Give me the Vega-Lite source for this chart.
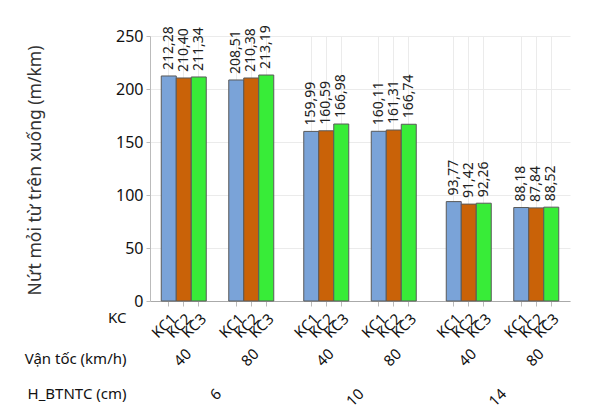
{
  "$schema": "https://vega.github.io/schema/vega-lite/v6.json",
  "autosize": {"type": "none"},
  "padding": {"left": 150, "top": 36, "right": 19, "bottom": 119},
  "width": 420,
  "height": 265,
  "config": {
    "view": {"stroke": null},
    "font": "Noto Sans",
    "locale": {"number": {"decimal": ",", "thousands": ".", "grouping": [3], "currency": ["", ""]}}
  },
  "data": {
    "values": [
      {"H": "6", "V": "40", "KC": "KC1", "value": 212.28, "key": "6|40|KC1"},
      {"H": "6", "V": "40", "KC": "KC2", "value": 210.40, "key": "6|40|KC2"},
      {"H": "6", "V": "40", "KC": "KC3", "value": 211.34, "key": "6|40|KC3"},
      {"H": "6", "V": "80", "KC": "KC1", "value": 208.51, "key": "6|80|KC1"},
      {"H": "6", "V": "80", "KC": "KC2", "value": 210.38, "key": "6|80|KC2"},
      {"H": "6", "V": "80", "KC": "KC3", "value": 213.19, "key": "6|80|KC3"},
      {"H": "10", "V": "40", "KC": "KC1", "value": 159.99, "key": "10|40|KC1"},
      {"H": "10", "V": "40", "KC": "KC2", "value": 160.59, "key": "10|40|KC2"},
      {"H": "10", "V": "40", "KC": "KC3", "value": 166.98, "key": "10|40|KC3"},
      {"H": "10", "V": "80", "KC": "KC1", "value": 160.11, "key": "10|80|KC1"},
      {"H": "10", "V": "80", "KC": "KC2", "value": 161.31, "key": "10|80|KC2"},
      {"H": "10", "V": "80", "KC": "KC3", "value": 166.74, "key": "10|80|KC3"},
      {"H": "14", "V": "40", "KC": "KC1", "value": 93.77, "key": "14|40|KC1"},
      {"H": "14", "V": "40", "KC": "KC2", "value": 91.42, "key": "14|40|KC2"},
      {"H": "14", "V": "40", "KC": "KC3", "value": 92.26, "key": "14|40|KC3"},
      {"H": "14", "V": "80", "KC": "KC1", "value": 88.18, "key": "14|80|KC1"},
      {"H": "14", "V": "80", "KC": "KC2", "value": 87.84, "key": "14|80|KC2"},
      {"H": "14", "V": "80", "KC": "KC3", "value": 88.52, "key": "14|80|KC3"}
    ]
  },
  "encoding": {
    "y": {
      "field": "value",
      "type": "quantitative",
      "scale": {"domain": [0, 250], "nice": false},
      "axis": {
        "values": [0, 50, 100, 150, 200, 250],
        "title": "Nứt mỏi từ trên xuống (m/km)",
        "titleFontSize": 17.5,
        "titleFontWeight": "normal",
        "titleColor": "#333333",
        "titleX": -115,
        "titleY": 134,
        "titleAlign": "center",
        "titleBaseline": "middle",
        "labelFontSize": 16,
        "labelColor": "#111111",
        "grid": true,
        "gridColor": "#ebebeb",
        "domainColor": "#bbbbbb",
        "tickColor": "#bbbbbb",
        "tickSize": 4,
        "labelPadding": 3
      }
    }
  },
  "layer": [
    {
      "mark": {"type": "bar", "width": 15, "stroke": "#5a5a5a", "strokeWidth": 1},
      "encoding": {
        "color": {
          "field": "KC",
          "type": "nominal",
          "scale": {"domain": ["KC1", "KC2", "KC3"], "range": ["#7aa3d8", "#c96208", "#38ec38"]},
          "legend": null
        },
        "x": {
          "field": "key",
          "type": "ordinal",
          "scale": {
            "type": "band",
            "paddingInner": 0,
            "paddingOuter": 0,
            "domain": ["a1", "a2", "6|40|KC1", "s1", "6|40|KC2", "s3", "6|40|KC3", "s5", "H|6", "s7", "s8", "6|80|KC1", "s10", "6|80|KC2", "s12", "6|80|KC3", "s14", "s15", "s16", "s17", "s18", "10|40|KC1", "s20", "10|40|KC2", "s22", "10|40|KC3", "s24", "H|10", "s26", "s27", "10|80|KC1", "s29", "10|80|KC2", "s31", "10|80|KC3", "s33", "s34", "s35", "s36", "s37", "14|40|KC1", "s39", "14|40|KC2", "s41", "14|40|KC3", "s43", "H|14", "s45", "s46", "14|80|KC1", "s48", "14|80|KC2", "s50", "14|80|KC3", "z1", "z2"]
          },
          "axis": {
            "orient": "bottom",
            "values": ["6|40|KC1", "6|40|KC2", "6|40|KC3", "6|80|KC1", "6|80|KC2", "6|80|KC3", "10|40|KC1", "10|40|KC2", "10|40|KC3", "10|80|KC1", "10|80|KC2", "10|80|KC3", "14|40|KC1", "14|40|KC2", "14|40|KC3", "14|80|KC1", "14|80|KC2", "14|80|KC3"],
            "labelExpr": "split(datum.value, '|')[2]",
            "labelAngle": -45,
            "labelFontSize": 15,
            "labelColor": "#111111",
            "labelPadding": 5,
            "tickSize": 5,
            "tickColor": "#bbbbbb",
            "domainColor": "#aaaaaa",
            "grid": true,
            "gridColor": "#ebebeb",
            "title": "KC",
            "titleFontSize": 15,
            "titleFontWeight": "normal",
            "titleColor": "#111111",
            "titleAngle": 0,
            "titleX": -24,
            "titleY": 16,
            "titleAlign": "right",
            "titleBaseline": "middle"
          }
        }
      }
    },
    {
      "mark": {"type": "text", "angle": 270, "align": "left", "baseline": "middle", "dx": 6, "fontSize": 14, "color": "#222222"},
      "encoding": {
        "x": {"field": "key", "type": "ordinal", "axis": null},
        "text": {"field": "value", "type": "quantitative", "format": ".2f"}
      }
    },
    {
      "mark": {"type": "bar", "width": 15, "opacity": 0},
      "encoding": {
        "x": {
          "field": "key",
          "type": "ordinal",
          "axis": {
            "orient": "bottom",
            "values": ["6|40|KC2", "6|80|KC2", "10|40|KC2", "10|80|KC2", "14|40|KC2", "14|80|KC2"],
            "labelExpr": "split(datum.value, '|')[1]",
            "labelAngle": -45,
            "labelFontSize": 15,
            "labelColor": "#111111",
            "labelPadding": 45,
            "ticks": false,
            "domain": false,
            "grid": false,
            "title": "Vận tốc (km/h)",
            "titleFontSize": 15,
            "titleFontWeight": "normal",
            "titleColor": "#111111",
            "titleAngle": 0,
            "titleX": -24,
            "titleY": 57,
            "titleAlign": "right",
            "titleBaseline": "middle"
          }
        }
      }
    },
    {
      "mark": {"type": "bar", "width": 15, "opacity": 0},
      "encoding": {
        "x": {
          "field": "key",
          "type": "ordinal",
          "axis": {
            "orient": "bottom",
            "values": ["H|6", "H|10", "H|14"],
            "labelExpr": "split(datum.value, '|')[1]",
            "labelAngle": -45,
            "labelFontSize": 15,
            "labelColor": "#111111",
            "labelPadding": 85,
            "ticks": false,
            "domain": false,
            "grid": false,
            "title": "H_BTNTC (cm)",
            "titleFontSize": 15,
            "titleFontWeight": "normal",
            "titleColor": "#111111",
            "titleAngle": 0,
            "titleX": -24,
            "titleY": 92,
            "titleAlign": "right",
            "titleBaseline": "middle"
          }
        }
      }
    }
  ],
  "resolve": {"axis": {"x": "independent"}}
}
